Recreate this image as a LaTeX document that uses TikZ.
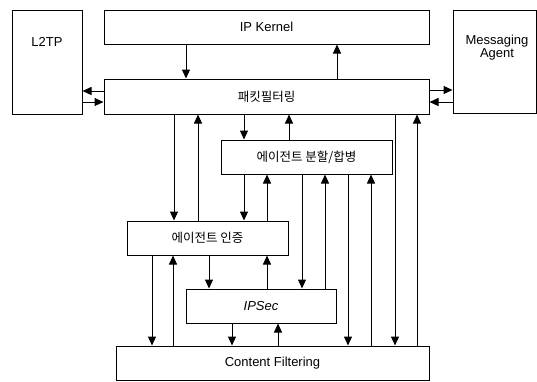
\documentclass[tikz,border=0pt]{standalone}
\usepackage{fontspec}
\setmainfont{Liberation Sans}
\newfontfamily\krfont{Noto Sans CJK KR}
\usetikzlibrary{arrows.meta,positioning}

\begin{document}
\begin{tikzpicture}[x=1pt, y=-1pt,
  blk/.style={rectangle, draw, line width=1pt, inner sep=0pt,
              font=\fontsize{13}{13}\selectfont},
  kr/.style={font=\krfont\fontsize{12.5}{13}\selectfont},
  arr/.style={-{Triangle[length=9pt,width=8pt]}, line width=1pt},
  lbl/.style={inner sep=0pt, font=\fontsize{13}{13}\selectfont, align=center}
]
\useasboundingbox (0,0) rectangle (537,381);

\node[blk, minimum width=70pt, minimum height=104pt] (l2tp) at (47,62) {};
\node[blk, minimum width=325pt, minimum height=34pt] (kernel) at (266.5,27) {IP Kernel};
\node[blk, minimum width=83pt, minimum height=103pt] (msg) at (494.5,61.5) {};
\node[blk, kr, minimum width=325pt, minimum height=35pt] (pkt) at (266.5,96.5) {패킷필터링};
\node[blk, kr, minimum width=171pt, minimum height=34pt] (split) at (306.5,157) {에이전트 분할/합병};
\node[blk, kr, minimum width=161pt, minimum height=34pt] (auth) at (207.5,238) {에이전트 인증};
\node[blk, minimum width=150pt, minimum height=34pt,
      font=\fontsize{13}{13}\selectfont\itshape] (ipsec) at (261,306) {IPSec};
\node[blk, minimum width=313pt, minimum height=34pt] (cf) at (272.5,363) {Content Filtering};

\node[lbl, below=28pt of l2tp.north] (l2tptxt) {L2TP};
\node[lbl, below=25pt of msg.north, xshift=2.5pt] (msgtxt) {Messaging\\Agent};

\draw[arr] (kernel.south -| 186,0) -- (pkt.north -| 186,0);
\draw[arr] (pkt.north -| 337,0) -- (kernel.south -| 337,0);
\draw[arr] (pkt.west |- 0,91) -- (l2tp.east |- 0,91);
\draw[arr] (l2tp.east |- 0,102) -- (pkt.west |- 0,102);
\draw[arr] (pkt.east |- 0,90) -- (msg.west |- 0,90);
\draw[arr] (msg.west |- 0,102) -- (pkt.east |- 0,102);

% downward
\foreach \x/\a/\b in {174/pkt/auth, 244/pkt/split, 395/pkt/cf,
                      244/split/auth, 302/split/ipsec, 348/split/cf,
                      152/auth/cf, 209/auth/ipsec, 232/ipsec/cf}
  \draw[arr] (\a.south -| \x,0) -- (\b.north -| \x,0);
% upward
\foreach \x/\a/\b in {198/auth/pkt, 289/split/pkt, 417/cf/pkt,
                      267/auth/split, 325/ipsec/split, 371/cf/split,
                      173/cf/auth, 267/ipsec/auth, 278/cf/ipsec}
  \draw[arr] (\a.north -| \x,0) -- (\b.south -| \x,0);
\end{tikzpicture}
\end{document}
